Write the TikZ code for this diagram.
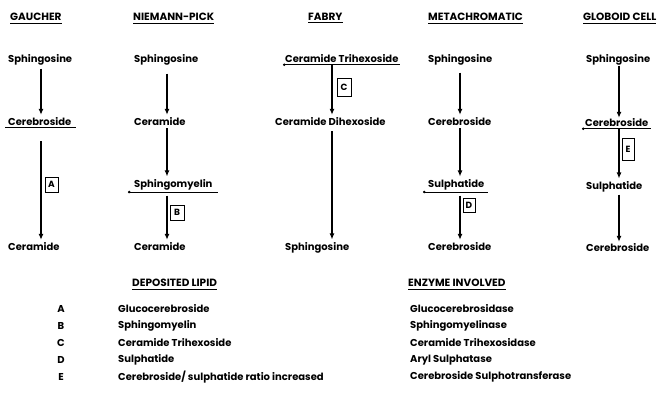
\documentclass[tikz,border=0pt]{standalone}
\usepackage{fontspec}
\setmainfont{Poppins}
\usetikzlibrary{arrows.meta}
\begin{document}
\begin{tikzpicture}[x=1pt,y=-1pt,
  every node/.style={font=\bfseries\fontsize{10}{11}\selectfont, inner sep=0pt, anchor=west},
  ttl/.style={font=\bfseries\fontsize{10.5}{12}\selectfont},
  arr/.style={-{Latex[length=6pt,width=5pt]}, line width=1.1pt},
  ul/.style={line width=0.9pt},
  bar/.style={line width=0.9pt, {Circle[length=2.4pt]}-},
  tag/.style={draw, line width=0.8pt, anchor=center, font=\bfseries\fontsize{9}{9}\selectfont}]
\useasboundingbox (0,0) rectangle (669,408);

% titles
\node[ttl] (tg) at (10,17) {GAUCHER};
\node[ttl] (tn) at (133,17) {NIEMANN-PICK};
\node[ttl] (tf) at (308,17) {FABRY};
\node[ttl] (tm) at (428,17) {METACHROMATIC};
\node[ttl] (tc) at (583,17) {GLOBOID CELL};
\foreach \t in {tg,tn,tf,tm,tc}
  \draw[ul] ([yshift=-2pt]\t.south west) -- ([yshift=-2pt]\t.south east);

% Gaucher
\coordinate (gx) at (41,0);
\node (g1) at (8,60) {Sphingosine};
\node (g2) at (8,122) {Cerebroside};
\node (g3) at (8,247) {Ceramide};
\draw[ul] ([yshift=-1.5pt]g2.south west) ++(-3pt,0) -- ([yshift=-1.5pt,xshift=4pt]g2.south east);
\draw[arr, shorten <=3pt, shorten >=3pt] (g1.south -| gx) -- (g2.north -| gx);
\draw[arr, shorten <=15pt, shorten >=3pt] (g2.south -| gx) -- (g3.north -| gx);
\node[tag, minimum width=13pt, minimum height=15pt] (ta) at (51.5,184.5) {A};

% Niemann-Pick
\coordinate (nx) at (167,0);
\node (n1) at (134,60) {Sphingosine};
\node (n2) at (134,122) {Ceramide};
\node (n3) at (134,185) {Sphingomyelin};
\node (n4) at (134,247) {Ceramide};
\draw[bar] ([yshift=-1.5pt,xshift=-6pt]n3.south west) -- ([yshift=-1.5pt,xshift=5pt]n3.south east);
\draw[arr, shorten <=8pt, shorten >=3pt] (n1.south -| nx) -- (n2.north -| nx);
\draw[arr, shorten <=2pt, shorten >=3pt] (n2.south -| nx) -- (n3.north -| nx);
\draw[arr, shorten <=5pt, shorten >=3pt] (n3.south -| nx) -- (n4.north -| nx);
\node[tag, minimum width=14pt, minimum height=15pt] (tb) at (177,212.5) {B};

% Fabry
\coordinate (fx) at (332,0);
\node (f1) at (285,59) {Ceramide Trihexoside};
\node (f2) at (275,122) {Ceramide Dihexoside};
\node (f3) at (285,248) {Sphingosine};
\draw[bar] ([yshift=-1.5pt,xshift=-2pt]f1.south west) -- ([yshift=-1.5pt,xshift=1pt]f1.south east);
\draw[arr, shorten <=2pt, shorten >=3pt] (f1.south -| fx) -- (f2.north -| fx);
\draw[arr, shorten <=5pt, shorten >=3pt] (f2.south -| fx) -- (f3.north -| fx);
\node[tag, minimum width=14pt, minimum height=18pt] (tcc) at (344,87) {C};

% Metachromatic
\coordinate (mx) at (460,0);
\node (m1) at (428,60) {Sphingosine};
\node (m2) at (428,122) {Cerebroside};
\node (m3) at (428,185) {Sulphatide};
\node (m4) at (428,247) {Cerebroside};
\draw[bar] ([yshift=-1.5pt,xshift=-5pt]m3.south west) -- ([yshift=-1.5pt,xshift=3pt]m3.south east);
\draw[arr, shorten <=7pt, shorten >=3pt] (m1.south -| mx) -- (m2.north -| mx);
\draw[arr, shorten <=2pt, shorten >=3pt] (m2.south -| mx) -- (m3.north -| mx);
\draw[arr, shorten <=5pt, shorten >=3pt] (m3.south -| mx) -- (m4.north -| mx);
\node[tag, minimum width=12pt, minimum height=14pt] (td) at (469,205) {D};

% Globoid cell
\coordinate (cx) at (619,0);
\node (c1) at (586,60) {Sphingosine};
\node (c2) at (585,123) {Cerebroside};
\node (c3) at (586,187) {Sulphatide};
\node (c4) at (586,248) {Cerebroside};
\draw[bar] ([yshift=-1.5pt,xshift=-3pt]c2.south west) -- ([yshift=-1.5pt,xshift=2pt]c2.south east);
\draw[arr, shorten <=0pt, shorten >=1pt] (c1.south -| cx) -- (c2.north -| cx);
\draw[arr, shorten <=2pt, shorten >=3pt] (c2.south -| cx) -- (c3.north -| cx);
\draw[arr, shorten <=2pt, shorten >=2pt] (c3.south -| cx) -- (c4.north -| cx);
\node[tag, minimum width=12pt, minimum height=22pt] (te) at (628,149) {E};

% legend
\node[ttl] (hl) at (132,283) {DEPOSITED LIPID};
\node[ttl] (he) at (408,283) {ENZYME INVOLVED};
\foreach \t in {hl,he}
  \draw[ul] ([yshift=-2pt]\t.south west) -- ([yshift=-2pt]\t.south east);

\foreach \k/\l/\d/\e/\yy in {a/A/{Glucocerebroside}/{Glucocerebrosidase}/309,
  b/B/{Sphingomyelin}/{Sphingomyelinase}/326,
  c/C/{Ceramide Trihexoside}/{Ceramide Trihexosidase}/343,
  d/D/{Sulphatide}/{Aryl Sulphatase}/360,
  e/E/{Cerebroside/ sulphatide ratio increased}/{Cerebroside Sulphotransferase}/377}{
  \node[anchor=center] (k\k) at (61,\yy) {\l};
  \node (d\k) at (118,\yy) {\d};
  \node (e\k) at (410,\yy) {\e};
}
\end{tikzpicture}
\end{document}
